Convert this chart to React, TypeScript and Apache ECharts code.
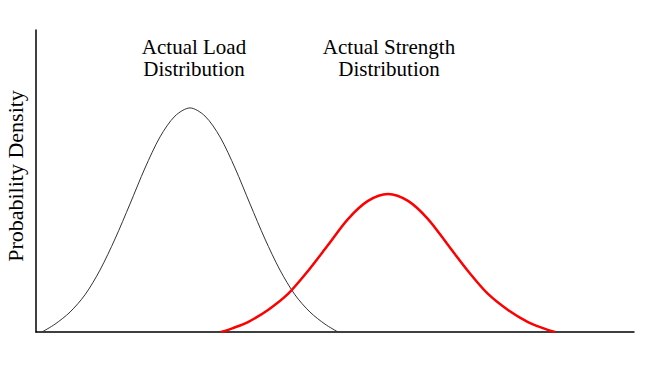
import React, { useEffect, useRef } from "react";
import * as echarts from "echarts";

// Load distribution (x position on stress/strength scale, probability density)
const loadX = [1.0, 3.18, 5.69, 8.19, 10.7, 13.21, 15.72, 18.23, 20.74, 23.24, 25.75, 28.26, 30.77, 33.28, 35.79, 38.29, 40.8, 43.31, 45.82, 48.33, 50.5];
const loadY = [0, 2.6, 6.6, 12.3, 20.5, 30.8, 42.4, 54.3, 64.6, 71.5, 74.2, 71.5, 64.6, 54.3, 42.4, 30.8, 20.5, 12.3, 6.6, 2.6, 0];

// Strength distribution
const strengthX = [30.94, 32.94, 35.45, 38.8, 42.14, 45.48, 48.83, 52.17, 55.52, 58.86, 62.21, 65.55, 68.9, 72.24, 75.59, 78.93, 82.27, 84.78, 86.79];
const strengthY = [0, 1.3, 3.3, 7.3, 12.6, 20.2, 28.8, 37.4, 43.4, 45.7, 43.4, 37.4, 28.8, 20.2, 12.6, 7.3, 3.3, 1.3, 0];

const loadLabel = "Actual Load\nDistribution";
const strengthLabel = "Actual Strength\nDistribution";
const yAxisLabel = "Probability Density";

const SERIF = '"Liberation Serif", "Times New Roman", serif';

export default function App() {
  const ref = useRef<HTMLDivElement>(null);

  useEffect(() => {
    if (!ref.current) return;
    const chart = echarts.init(ref.current, undefined, { renderer: "svg" });
    const option = {
      animation: false,
      backgroundColor: "#ffffff",
      grid: { left: 36, right: 16, top: 30, bottom: 40 },
      xAxis: {
        type: "value",
        min: 0,
        max: 100,
        axisLine: { show: true, lineStyle: { color: "#000", width: 1.5 } },
        axisTick: { show: false },
        axisLabel: { show: false },
        splitLine: { show: false },
      },
      yAxis: {
        type: "value",
        min: 0,
        max: 100,
        axisLine: { show: true, lineStyle: { color: "#000", width: 1.5 } },
        axisTick: { show: false },
        axisLabel: { show: false },
        splitLine: { show: false },
      },
      series: [
        {
          type: "line",
          name: "Actual Load Distribution",
          data: loadX.map((x, i) => [x, loadY[i]]),
          smooth: 0.3,
          symbol: "none",
          lineStyle: { color: "#333333", width: 1 },
          z: 2,
        },
        {
          type: "line",
          name: "Actual Strength Distribution",
          data: strengthX.map((x, i) => [x, strengthY[i]]),
          smooth: 0.3,
          symbol: "none",
          lineStyle: { color: "#ff0000", width: 2.5 },
          z: 3,
        },
      ],
      graphic: [
        {
          type: "text",
          x: 194,
          y: 36,
          style: {
            text: loadLabel,
            font: `21px ${SERIF}`,
            fill: "#000",
            textAlign: "center",
            textVerticalAlign: "top",
            lineHeight: 22,
          },
        },
        {
          type: "text",
          x: 389,
          y: 36,
          style: {
            text: strengthLabel,
            font: `21px ${SERIF}`,
            fill: "#000",
            textAlign: "center",
            textVerticalAlign: "top",
            lineHeight: 22,
          },
        },
        {
          type: "text",
          x: 15,
          y: 176,
          rotation: Math.PI / 2,
          style: {
            text: yAxisLabel,
            font: `22px ${SERIF}`,
            fill: "#000",
            textAlign: "center",
            textVerticalAlign: "middle",
          },
        },
      ],
    };
    chart.setOption(option);
    return () => chart.dispose();
  }, []);

  return (
    <div
      ref={ref}
      style={{ position: "fixed", left: 0, top: 0, width: 650, height: 372, background: "#fff" }}
    />
  );
}
